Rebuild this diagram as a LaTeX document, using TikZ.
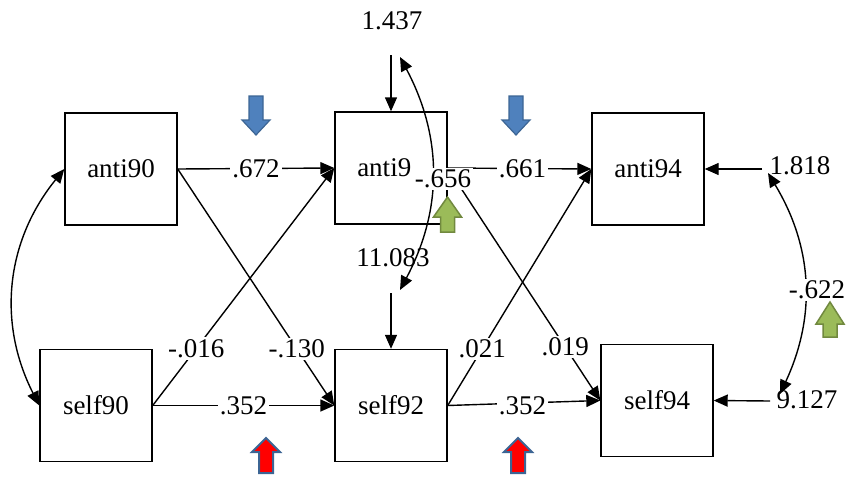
\documentclass[tikz,border=0pt]{standalone}
\usepackage{fontspec}
\setmainfont{Liberation Serif}
\usetikzlibrary{arrows.meta}

\definecolor{blueFill}{HTML}{4F81BD}
\definecolor{blueLine}{HTML}{3C6594}
\definecolor{greenFill}{HTML}{9BBB59}
\definecolor{greenLine}{HTML}{71893F}

\begin{document}
\begin{tikzpicture}[
  x=1pt, y=-1pt,
  every node/.style={font=\fontsize{27}{31}\selectfont},
  box/.style={draw, line width=1.4pt, minimum width=112pt, minimum height=112pt, inner sep=0pt},
  path/.style={line width=1.4pt, -{Triangle[length=14pt,width=12pt]}},
  cov/.style={line width=1.4pt, {Triangle[length=14pt,width=12pt]}-{Triangle[length=14pt,width=12pt]}},
  lab/.style={fill=white, inner sep=2pt},
  num/.style={inner sep=1pt},
  bluearrow/.style={fill=blueFill, draw=blueLine, line width=1.2pt},
  redarrow/.style={fill=red, draw=blueLine, line width=2pt},
  greenarrow/.style={fill=greenFill, draw=greenLine, line width=1.5pt},
  pics/fatarrow/.style 2 args={code={
    \path[pic actions] (0,0) -- (14,#1) -- (7,#1) -- (7,#2) -- (-7,#2)
      -- (-7,#1) -- (-14,#1) -- cycle;}}
]
\useasboundingbox (0,0) rectangle (848,477);

% observed variables
\node[box] (anti90) at (121,169) {anti90};
\node[box] (anti92) at (391,168) {anti9\phantom{2}};
\node[box] (anti94) at (648,169) {anti94};
\node[box] (self90) at (96,405.5) {self90};
\node[box] (self92) at (391,405.5) {self92};
\node[box] (self94) at (657,400.5) {self94};

% error variances and their entry points
\node[num] (v1) at (392,21) {1.437};
\node[num] (v2) at (393,258) {11.083};
\node[num] (v3) at (800,166) {1.818};
\node[num] (v4) at (807,400) {9.127};
\coordinate (e1) at (391,55);
\coordinate (e2) at (391,293);
\coordinate (e3) at (762,169);
\coordinate (e4) at (770,401);
\coordinate (c1) at (400,57);
\coordinate (c2) at (400,290);
\coordinate (c3) at (768,173);
\coordinate (c4) at (780,394);

\draw[path] (e1) -- (anti92.north);
\draw[path] (e2) -- (self92.north);
\draw[path] (e3) -- (anti94.east);
\draw[path] (e4) -- (self94.east);

% cross-lagged paths
\draw[path] (anti90.east) -- node[lab,pos=.5]{.672} (anti92.west);
\draw[path] (anti90.east) -- node[lab,pos=.76]{-.130} (self92.west);
\draw[path] (self90.east) -- node[lab,pos=.24]{-.016} (anti92.west);
\draw[path] (self90.east) -- node[lab,pos=.5]{.352} (self92.west);
\draw[path] (anti92.east) -- node[lab,pos=.52]{.661} (anti94.west);
\draw[path] (anti92.east) -- node[lab,pos=.77]{.019} (self94.west);
\draw[path] (self92.east) -- node[lab,pos=.24]{.021} (anti94.west);
\draw[path] (self92.east) -- node[lab,pos=.49,yshift=-3pt]{.352} (self94.west);

% covariances
\draw[cov] (anti90.west) to[bend right=33] (self90.west);
\draw[cov] (c1) to[bend left=28] (c2);
\draw[cov] (c3) to[bend left=28] (c4);
\node[lab] (r92) at (443,179) {-.656};
\node[lab] (r94) at (817,290) {-.622};

% block arrows
\pic[bluearrow, rotate=180] at (256,135) {fatarrow={15}{39}};
\pic[bluearrow, rotate=180] at (516,135) {fatarrow={15}{39}};
\pic[redarrow] at (266,438) {fatarrow={14}{35}};
\pic[redarrow] at (518,438) {fatarrow={14}{35}};
\pic[greenarrow] at (447.5,197) {fatarrow={20}{35}};
\pic[greenarrow] at (830,302) {fatarrow={22}{35}};
\end{tikzpicture}
\end{document}
